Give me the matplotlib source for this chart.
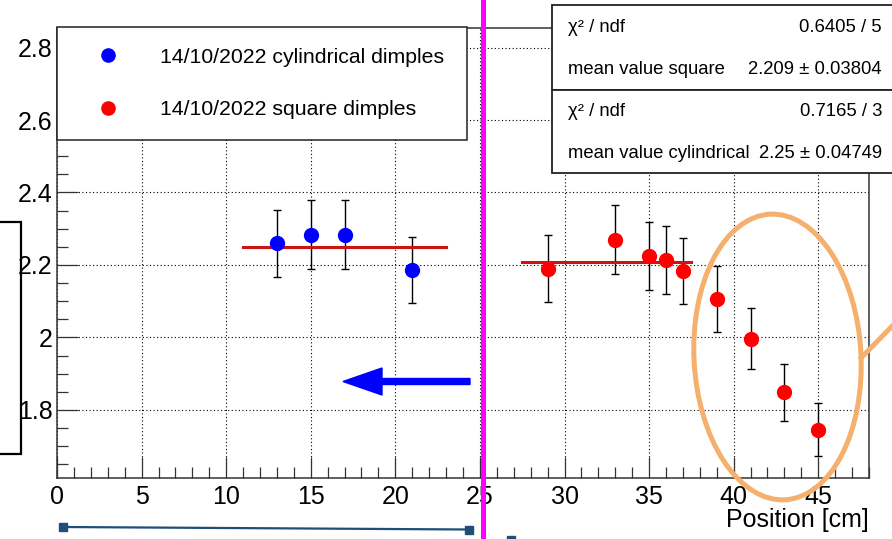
import numpy as np
import matplotlib
matplotlib.use("Agg")
import matplotlib.pyplot as plt
from matplotlib.patches import Rectangle, Ellipse, FancyArrow
from matplotlib.ticker import MultipleLocator

plt.rcParams['font.family'] = ['Liberation Sans', 'DejaVu Sans']

# ---------------- data ----------------
cyl_x = [13, 15, 17, 21]
cyl_y = [2.26, 2.283, 2.283, 2.186]
cyl_err = [0.093, 0.095, 0.095, 0.092]

sq_x = [29, 33, 35, 36, 37, 39, 41, 43, 45]
sq_y = [2.19, 2.27, 2.225, 2.214, 2.183, 2.106, 1.997, 1.849, 1.745]
sq_err = [0.092, 0.095, 0.093, 0.093, 0.091, 0.09, 0.085, 0.079, 0.073]

cyl_fit_range = [11, 23]
cyl_mean = 2.25
sq_fit_range = [27.5, 37.5]
sq_mean = 2.209

cyl_label = "14/10/2022 cylindrical dimples"
sq_label = "14/10/2022 square dimples"
stats_square = [("χ² / ndf", "0.6405 / 5"), ("mean value square", "2.209 ± 0.03804")]
stats_cyl = [("χ² / ndf", "0.7165 / 3"), ("mean value cylindrical", "2.25 ± 0.04749")]

W, H = 892, 539
fig = plt.figure(figsize=(W / 100, H / 100), dpi=100)
fig.patch.set_facecolor('white')

# main axes, placed in pixels
L, R, T, B = 57, 869, 28, 478
ax = fig.add_axes([L / W, 1 - B / H, (R - L) / W, (B - T) / H])
ax.set_xlim(0, 48)
ax.set_ylim(1.612, 2.854)

ax.xaxis.set_major_locator(MultipleLocator(5))
ax.xaxis.set_minor_locator(MultipleLocator(1))
ax.yaxis.set_major_locator(MultipleLocator(0.2))
ax.yaxis.set_minor_locator(MultipleLocator(0.05))
ax.yaxis.set_major_formatter(matplotlib.ticker.FuncFormatter(lambda v, p: f"{v:g}"))
ax.tick_params(which='both', direction='in', top=False, right=False, colors='#333333')
ax.tick_params(which='major', length=15, width=0.9, labelsize=18, labelcolor='black')
ax.tick_params(axis='y', which='major', pad=3)
ax.tick_params(axis='x', which='major', pad=5)
ax.tick_params(which='minor', length=8, width=0.9)
for s in ax.spines.values():
    s.set_color('#333333')
    s.set_linewidth(1.1)
ax.grid(True, which='major', color='black', linestyle=(0, (1, 2.2)), linewidth=0.8)
ax.set_axisbelow(True)

ax.set_xlabel("Position [cm]", fontsize=18, loc='right')
ax.xaxis.set_label_coords(1.0, -0.066)

# data
ax.errorbar(cyl_x, cyl_y, yerr=cyl_err, fmt='none', ecolor='black', elinewidth=1.0,
            capsize=3, capthick=1.0, zorder=3)
ax.errorbar(sq_x, sq_y, yerr=sq_err, fmt='none', ecolor='black', elinewidth=1.0,
            capsize=3, capthick=1.0, zorder=3)
ax.plot(cyl_fit_range, [cyl_mean, cyl_mean], color='#cc1414', lw=2.2, zorder=4)
ax.plot(sq_fit_range, [sq_mean, sq_mean], color='#cc1414', lw=2.2, zorder=4)
ax.plot(cyl_x, cyl_y, 'o', color='#0000ff', ms=10, label=cyl_label, zorder=5)
ax.plot(sq_x, sq_y, 'o', color='#ff0000', ms=10, label=sq_label, zorder=5)

leg = ax.legend(loc='upper left', bbox_to_anchor=(L / W, 1 - 27 / H, 410 / W, 0),
                bbox_transform=fig.transFigure, mode='expand', borderaxespad=0,
                fontsize=15.3, borderpad=0.97, handlelength=2.84, handletextpad=1.03,
                labelspacing=1.57, fancybox=False, framealpha=1, numpoints=1,
                markerscale=0.95)
leg.get_frame().set_edgecolor('#222222')
leg.get_frame().set_linewidth(1.1)

# ---------------- overlay in pixel coordinates ----------------
ov = fig.add_axes([0, 0, 1, 1], facecolor='none')
ov.set_xlim(0, W)
ov.set_ylim(H, 0)
ov.axis('off')

# stats boxes
for top, bot, rows in [(5, 90, stats_square), (90, 173, stats_cyl)]:
    ov.add_patch(Rectangle((552, top), 360, bot - top, facecolor='white',
                           edgecolor='#222222', lw=1.3, zorder=6))
    ys = [top + 22, top + 64]
    for (lab, val), yy in zip(rows, ys):
        ov.text(568, yy, lab, fontsize=13.3, va='center', ha='left', zorder=7)
        ov.text(882, yy, val, fontsize=13.3, va='center', ha='right', zorder=7)

# left black box
ov.add_patch(Rectangle((-20, 222), 41, 232, facecolor='none', edgecolor='black', lw=1.6))

# magenta separator
ov.plot([482.5, 482.5], [0, H], color='#ff00ff', lw=3.6, zorder=8)

# blue arrow
ov.add_patch(FancyArrow(470, 381.5, -127, 0, width=6, head_width=27, head_length=39,
                        length_includes_head=True, color='#0000ff', zorder=8))

# orange ellipse and pointer
ov.add_patch(Ellipse((777.5, 357), 167, 286, angle=-3, facecolor='none',
                     edgecolor='#f4b06c', lw=3.6, zorder=8))
ov.plot([861, 900], [358, 318], color='#f4b06c', lw=3.6, zorder=8)

# navy range bar at the bottom
ov.plot([63, 469], [527, 529.5], color='#1f4e79', lw=1.6, zorder=8)
ov.plot([63, 469], [527, 529.5], 's', color='#1f4e79', ms=5.5, zorder=8)
ov.add_patch(Rectangle((507, 536), 8, 6, color='#1f4e79', zorder=8))

fig.savefig("out.png", dpi=100)
